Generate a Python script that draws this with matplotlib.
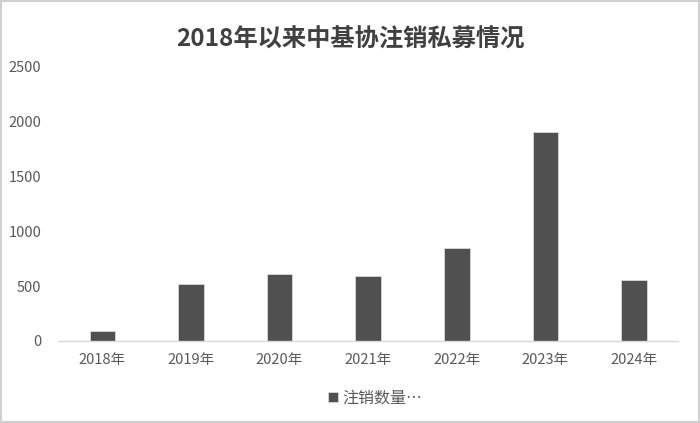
import matplotlib.pyplot as plt
from matplotlib.patches import Rectangle

plt.rcParams['font.family'] = ['Noto Sans CJK SC', 'DejaVu Sans']

years = ['2018年', '2019年', '2020年', '2021年', '2022年', '2023年', '2024年']
counts = [94, 520, 611, 596, 846, 1907, 559]
yticks = [0, 500, 1000, 1500, 2000, 2500]

fig = plt.figure(figsize=(7, 4.23), dpi=100)
ax = fig.add_axes([0.083, 0.194, 0.886, 0.648])

ax.bar(range(len(years)), counts, width=0.29, color='#505050',
       edgecolor='#d9d9d9', linewidth=0.6, label='注销数量…')

ax.set_xlim(-0.5, len(years) - 0.5)
ax.set_ylim(0, 2500)
ax.set_xticks(range(len(years)))
ax.set_xticklabels(years)
ax.set_yticks(yticks)
ax.tick_params(axis='both', length=0, labelsize=10.5, labelcolor='#595959')
ax.tick_params(axis='y', pad=12)
ax.tick_params(axis='x', pad=9)

for s in ['top', 'right', 'left']:
    ax.spines[s].set_visible(False)
ax.spines['bottom'].set_color('#d9d9d9')
ax.spines['bottom'].set_linewidth(1)

fig.suptitle('2018年以来中基协注销私募情况', y=0.935, fontsize=17.5,
             fontweight='bold', color='#404040')

fig.legend(loc='center', bbox_to_anchor=(0.536, 0.059), frameon=False,
           fontsize=11.5, labelcolor='#595959', handlelength=0.6,
           handleheight=0.6, handletextpad=0.3)

# chart border
fig.patches.append(Rectangle((0.002, 0.003), 0.996, 0.994, transform=fig.transFigure,
                             fill=False, edgecolor='#d0d0d0', linewidth=1.5))

fig.savefig('out.png', dpi=100)
